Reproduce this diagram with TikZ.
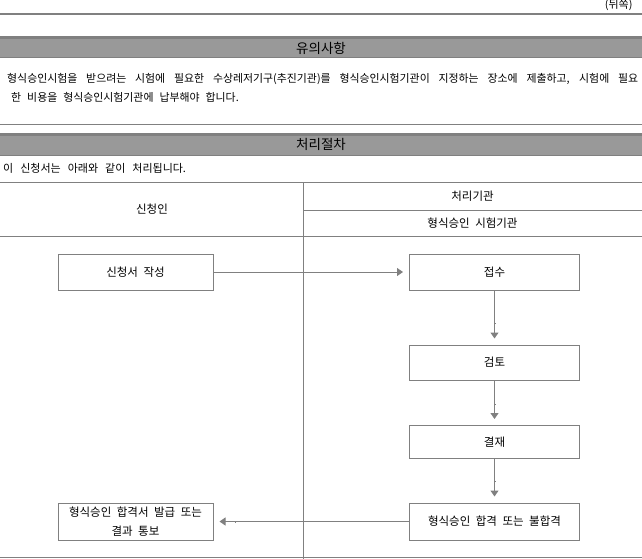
\documentclass[tikz,border=0pt]{standalone}
\usepackage{fontspec}
\setmainfont{Noto Sans CJK KR}
\usetikzlibrary{arrows.meta}
\definecolor{rulegray}{RGB}{128,128,128}
\definecolor{bargray}{RGB}{153,153,153}
\newcommand\widesp{\spaceskip=5.5pt\relax}

\tikzset{
  stepbox/.style={draw=rulegray, line width=1pt, inner sep=0pt,
    minimum height=36pt, align=center,
    font=\fontsize{11.5}{19}\selectfont\widesp},
  flow/.style={draw=rulegray, line width=1pt,
    -{Square[length=0.1pt,width=0.1pt,sep=9pt]Triangle[length=6pt,width=8pt]}, shorten >=6pt},
  thinrule/.style={draw=rulegray, line width=1pt},
  headtext/.style={font=\fontsize{11.5}{13}\selectfont\widesp},
}

\begin{document}
\begin{tikzpicture}[x=1pt,y=-1pt]
\useasboundingbox (0,0) rectangle (642,559);

% top of the page
\node[anchor=east, font=\fontsize{11}{13}\selectfont] (page) at (636,5) {(뒤쪽)};
\draw[rulegray, line width=2pt] (0,14) -- (642,14);

% first section
\fill[bargray] (0,37) rectangle (642,58);
\draw[rulegray, line width=3pt] (0,38) -- (642,38);
\draw[thinrule] (0,58) -- (642,58);
\node[font=\fontsize{13.5}{15}\selectfont] (notice) at (321,48.5) {유의사항};
\node[anchor=north west, text width=631pt, align=justify, inner sep=0pt,
  font=\fontsize{10.9}{19}\selectfont] (notetext) at (7,73.5)
  {\spaceskip=6pt plus 20pt minus 1pt\relax
   형식승인시험을 받으려는 시험에 필요한 수상레저기구(추진기관)를 형식승인시험기관이 지정하는 장소에 제출하고, 시험에 필요\linebreak
   \hspace*{4pt}한 비용을 형식승인시험기관에 납부해야 합니다.};
\draw[thinrule] (0,124.5) -- (642,124.5);

% second section
\fill[bargray] (0,133) rectangle (642,155);
\draw[rulegray, line width=3pt] (0,134) -- (642,134);
\draw[thinrule] (0,155) -- (642,155);
\node[font=\fontsize{13.5}{15}\selectfont] (procedure) at (321,144.5) {처리절차};
\node[anchor=west, inner sep=0pt, font=\fontsize{11}{13}\selectfont] (intro) at (3,168)
  {\spaceskip=7pt\relax 이 신청서는 아래와 같이 처리됩니다.};

% table
\draw[thinrule] (0,182.5) -- (642,182.5);
\draw[thinrule] (303.5,210) -- (642,210);
\draw[thinrule] (0,236.5) -- (642,236.5);
\draw[thinrule] (0,557.5) -- (642,557.5);
\draw[thinrule] (303.5,182.5) -- (303.5,559);
\node[headtext] (applicant) at (152,209.5) {신청인};
\node[headtext] (agency) at (472.5,196) {처리기관};
\node[headtext] (lab) at (472.5,223) {형식승인 시험기관};

% flow
\node[stepbox, minimum width=155pt] (apply) at (135.5,272) {신청서 작성};
\node[stepbox, minimum width=170pt] (receive) at (494.5,272) {접수};
\node[stepbox, minimum width=170pt, minimum height=35pt] (review) at (494.5,362.5) {검토};
\node[stepbox, minimum width=170pt, minimum height=33pt] (approve) at (494.5,442) {결재};
\node[stepbox, minimum width=170pt, minimum height=37pt] (result) at (494.5,521.5) {형식승인 합격 또는 불합격};
\node[stepbox, minimum width=155pt, minimum height=37pt] (notify) at (135.5,521.5) {형식승인 합격서 발급 또는\\결과 통보};

\draw[flow] (apply.east) -- (receive.west);
\draw[flow] (receive) -- (review);
\draw[flow] (review) -- (approve);
\draw[flow] (approve) -- (result);
\draw[flow] (result.west) -- (notify.east);
\end{tikzpicture}
\end{document}
